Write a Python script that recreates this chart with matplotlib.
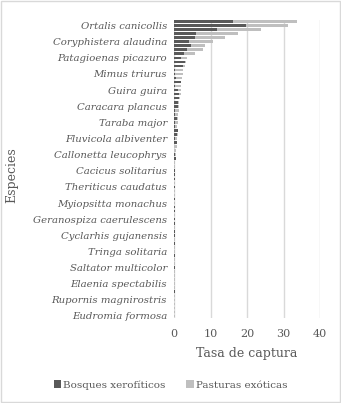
import matplotlib
matplotlib.use("Agg")
import matplotlib.pyplot as plt
from matplotlib.patches import Rectangle
import numpy as np

# Values listed from the top bar to the bottom bar (74 species)
bosques = [16.2, 19.6, 11.8, 6.1, 5.7, 4.2, 4.6, 3.6, 2.7, 1.8,
           2.9, 2.5, 0.2, 0.4, 0.6, 2.0, 0.2, 1.2, 1.5, 1.5,
           1.2, 1.2, 0.4, 0.3, 0.8, 0.3, 0.3, 1.0, 0.8, 0.2,
           0.8, 0.0, 0.0, 0.3, 0.5, 0.0, 0.0, 0.4, 0.4, 0.3,
           0.0, 0.3, 0.0, 0.0, 0.3, 0.0, 0.2, 0.3, 0.0, 0.2,
           0.2, 0.0, 0.2, 0.2, 0.0, 0.2, 0.0, 0.0, 0.15, 0.0,
           0.0, 0.15, 0.0, 0.0, 0.0, 0.0, 0.0, 0.15, 0.0, 0.0,
           0.0, 0.0, 0.0, 0.0]
pasturas = [17.4, 11.5, 11.9, 11.3, 8.4, 6.4, 4.0, 4.4, 3.1, 1.8,
            0.5, 0.4, 2.3, 2.0, 1.6, 0.0, 1.6, 0.6, 0.3, 0.2,
            0.3, 0.3, 0.9, 0.9, 0.2, 0.7, 0.6, 0.0, 0.2, 0.6,
            0.0, 0.8, 0.5, 0.2, 0.0, 0.4, 0.4, 0.0, 0.0, 0.0,
            0.2, 0.0, 0.2, 0.2, 0.0, 0.2, 0.0, 0.0, 0.2, 0.0,
            0.0, 0.2, 0.0, 0.0, 0.2, 0.0, 0.2, 0.2, 0.0, 0.15,
            0.15, 0.0, 0.15, 0.15, 0.15, 0.15, 0.15, 0.0, 0.15, 0.15,
            0.15, 0.15, 0.15, 0.15]

# Labelled species, bottom to top (every 4th category from the bottom)
labelled_species = ["Eudromia formosa", "Rupornis magnirostris", "Elaenia spectabilis",
                    "Saltator multicolor", "Tringa solitaria", "Cyclarhis gujanensis",
                    "Geranospiza caerulescens", "Myiopsitta monachus", "Theriticus caudatus",
                    "Cacicus solitarius", "Callonetta leucophrys", "Fluvicola albiventer",
                    "Taraba major", "Caracara plancus", "Guira guira", "Mimus triurus",
                    "Patagioenas picazuro", "Coryphistera alaudina", "Ortalis canicollis"]
x_ticks = [0, 10, 20, 30, 40]

n = len(bosques)
pos = np.arange(n)[::-1]  # top bar gets highest position

W, H = 341, 403
fig = plt.figure(figsize=(W / 100, H / 100), dpi=100)
ax = fig.add_axes([174 / W, 1 - 318 / H, (320 - 174) / W, (318 - 19.5) / H])

dark = "#595959"
light = "#bfbfbf"
txt = "#595959"

ax.barh(pos, bosques, height=0.65, color=dark, label="Bosques xerofíticos", zorder=3)
ax.barh(pos, pasturas, left=bosques, height=0.65, color=light,
        label="Pasturas exóticas", zorder=3)

ax.set_xlim(0, 40)
ax.set_ylim(-0.5, n - 0.5)
ax.set_xticks(x_ticks)
ax.set_xticklabels([str(t) for t in x_ticks], fontfamily="DejaVu Serif",
                   fontsize=8, color=txt)
ax.set_yticks(np.arange(0, n, 4)[:len(labelled_species)])
ax.set_yticklabels(labelled_species, fontfamily="DejaVu Serif", fontstyle="italic",
                   fontsize=7.3, color=txt)
ax.tick_params(length=0, pad=5)
ax.tick_params(axis="x", pad=8)
ax.grid(axis="x", color="#d9d9d9", linewidth=1, zorder=0)
for s in ax.spines.values():
    s.set_visible(False)

ax.set_xlabel("Tasa de captura", fontfamily="DejaVu Serif", fontsize=9, color=txt,
              labelpad=6)
fig.text(12 / W, 1 - 175 / H, "Especies", rotation=90, ha="center", va="center",
         fontfamily="DejaVu Serif", fontsize=9, color=txt)

leg = fig.legend(loc="center", bbox_to_anchor=(0.5, 1 - 385 / H), ncol=2,
                 frameon=False, prop={"family": "DejaVu Serif", "size": 7.5},
                 handlelength=0.7, handleheight=0.7, handletextpad=0.2,
                 columnspacing=2.0, labelcolor=txt)

fig.patches.append(Rectangle((0.003, 0.003), 0.994, 0.994, transform=fig.transFigure,
                             fill=False, edgecolor="#d9d9d9", linewidth=1))

fig.savefig("out.png", dpi=100)
